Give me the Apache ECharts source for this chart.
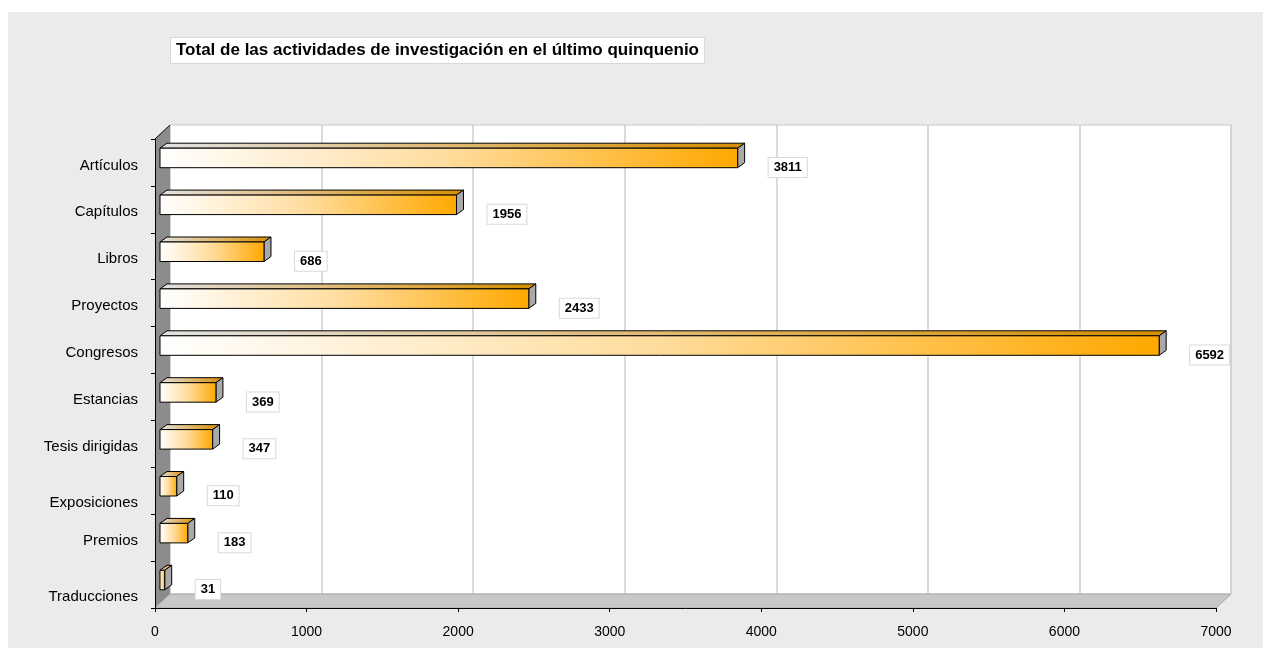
<!DOCTYPE html>
<html>
<head>
<meta charset="utf-8">
<script src="https://cdn.jsdelivr.net/npm/echarts@6/dist/echarts.min.js"></script>
<style>
  html, body { margin: 0; padding: 0; background: #ffffff; width: 1263px; height: 648px; overflow: hidden; }
  #chart { position: absolute; left: 8px; top: 12px; width: 1255px; height: 636px; }
</style>
</head>
<body>
<div id="chart"></div>
<script>
// ---- data ----
const title = 'Total de las actividades de investigación en el último quinquenio';
const categories = ['Artículos', 'Capítulos', 'Libros', 'Proyectos', 'Congresos', 'Estancias', 'Tesis dirigidas', 'Exposiciones', 'Premios', 'Traducciones'];
const values = [3811, 1956, 686, 2433, 6592, 369, 347, 110, 183, 31];
const axisMin = 0, axisMax = 7000, axisStep = 1000;
const lowLabels = ['Exposiciones', 'Traducciones'];

// ---- layout (3D box) ----
const FONT = '"Liberation Sans", Arial, Helvetica, sans-serif';
const DX = 15, DY = -14;            // depth of the box
const front = { left: 147, top: 127, right: 47, bottom: 40 };
const back = { left: front.left + DX, top: front.top + DY, right: front.right - DX, bottom: front.bottom - DY };
const BAR_SHIFT_X = 5, BAR_SHIFT_Y = -4.5; // bar placed inside depth
const BAR_DX = 7, BAR_DY = -5;              // bar's own depth
const BAR_H = 19.5;

const chart = echarts.init(document.getElementById('chart'), null, { renderer: 'canvas' });

const frontGrad = () => new echarts.graphic.LinearGradient(0, 0, 1, 0, [
  { offset: 0, color: '#ffffff' },
  { offset: 0.5, color: '#ffdc9c' },
  { offset: 1, color: '#ffa800' }
]);
const topGrad = () => new echarts.graphic.LinearGradient(0, 0, 1, 0, [
  { offset: 0, color: '#e2e2e2' },
  { offset: 0.5, color: '#e0b870' },
  { offset: 1, color: '#d48e00' }
]);

const option = {
  backgroundColor: '#ebebeb',
  animation: false,
  title: {
    text: title,
    left: 162, top: 25,
    backgroundColor: '#ffffff',
    borderColor: '#d8d8d8',
    borderWidth: 1,
    padding: [5, 6, 5, 6],
    textStyle: { fontFamily: FONT, fontWeight: 'bold', fontSize: 17, color: '#000' }
  },
  grid: [
    { left: back.left, top: back.top, right: back.right, bottom: back.bottom, show: true,
      backgroundColor: '#ffffff', borderColor: '#c8c8c8', borderWidth: 1, z: 0 },
    { left: front.left, top: front.top, right: front.right, bottom: front.bottom, show: false }
  ],
  xAxis: [
    { gridIndex: 0, type: 'value', min: axisMin, max: axisMax, interval: axisStep,
      axisLine: { show: false }, axisTick: { show: false }, axisLabel: { show: false },
      splitLine: { show: true, lineStyle: { color: '#cfcfcf', width: 1.5 } }, z: 1 },
    { gridIndex: 1, type: 'value', min: axisMin, max: axisMax, interval: axisStep,
      axisLine: { show: true, lineStyle: { color: '#000', width: 1 } },
      axisTick: { show: true, length: 4, lineStyle: { color: '#000' } },
      axisLabel: { margin: 17, fontFamily: FONT, fontSize: 14, color: '#000',
        formatter: function (v) { return String(v); } },
      splitLine: { show: false }, z: 10 }
  ],
  yAxis: [
    { gridIndex: 0, type: 'category', data: categories, inverse: true, show: false },
    { gridIndex: 1, type: 'category', data: categories, inverse: true,
      axisLine: { show: true, lineStyle: { color: '#000', width: 1 } },
      axisTick: { show: true, length: 4, lineStyle: { color: '#000' } },
      axisLabel: {
        margin: 17, fontFamily: FONT, fontSize: 15, color: '#000',
        formatter: function (v) { return (lowLabels.indexOf(v) >= 0 ? '{low|' : '{n|') + v + '}'; },
        rich: {
          n: { fontFamily: FONT, fontSize: 15, color: '#000', padding: [6, 0, 0, 0] },
          low: { fontFamily: FONT, fontSize: 15, color: '#000', padding: [24, 0, 0, 0] }
        }
      },
      splitLine: { show: false }, z: 10 }
  ],
  series: [
    { // walls and floor of the box
      type: 'custom', xAxisIndex: 1, yAxisIndex: 1, z: 1, silent: true,
      data: [[0, 0]],
      renderItem: function (params, api) {
        const cs = params.coordSys;
        const x = cs.x, y = cs.y, w = cs.width, h = cs.height;
        return {
          type: 'group',
          children: [
            { type: 'polygon', shape: { points: [[x, y], [x + DX, y + DY], [x + DX, y + h + DY], [x, y + h]] },
              style: { fill: '#8c8c8c', stroke: null } },
            { type: 'line', shape: { x1: x, y1: y, x2: x + DX, y2: y + DY },
              style: { stroke: '#000', lineWidth: 1 } },
            { type: 'polygon', shape: { points: [[x, y + h], [x + DX, y + h + DY], [x + w + DX, y + h + DY], [x + w, y + h]] },
              style: { fill: '#c8c8c8', stroke: '#a8a8a8', lineWidth: 1 } }
          ]
        };
      }
    },
    { // 3D bars
      type: 'custom', xAxisIndex: 1, yAxisIndex: 1, z: 5,
      encode: { x: 0, y: 1 },
      data: values.map(function (v, i) { return [v, i]; }),
      renderItem: function (params, api) {
        const v = api.value(0), c = api.value(1);
        const p0 = api.coord([0, c]);
        const p1 = api.coord([v, c]);
        const x0 = p0[0] + BAR_SHIFT_X, x1 = p1[0] + BAR_SHIFT_X;
        const yc = p0[1] + BAR_SHIFT_Y;
        const yT = yc - BAR_H / 2, yB = yc + BAR_H / 2;
        return {
          type: 'group',
          children: [
            { type: 'polygon',
              shape: { points: [[x0, yT], [x0 + BAR_DX, yT + BAR_DY], [x1 + BAR_DX, yT + BAR_DY], [x1, yT]] },
              style: { fill: topGrad(), stroke: '#000', lineWidth: 1 } },
            { type: 'polygon',
              shape: { points: [[x1, yT], [x1 + BAR_DX, yT + BAR_DY], [x1 + BAR_DX, yB + BAR_DY], [x1, yB]] },
              style: { fill: '#a9a9a9', stroke: '#000', lineWidth: 1 } },
            { type: 'rect',
              shape: { x: x0, y: yT, width: x1 - x0, height: BAR_H },
              style: { fill: frontGrad(), stroke: '#000', lineWidth: 1 } },
            { type: 'text',
              x: x1 + BAR_DX + 24, y: p0[1] + 5,
              style: {
                text: String(v), font: 'bold 13px ' + FONT, fill: '#000',
                align: 'left', verticalAlign: 'middle',
                textAlign: 'left', textVerticalAlign: 'middle',
                backgroundColor: '#ffffff', borderColor: '#d9d9d9', borderWidth: 1,
                padding: [3, 5, 3, 5]
              } }
          ]
        };
      }
    }
  ]
};
chart.setOption(option);
</script>
</body>
</html>
